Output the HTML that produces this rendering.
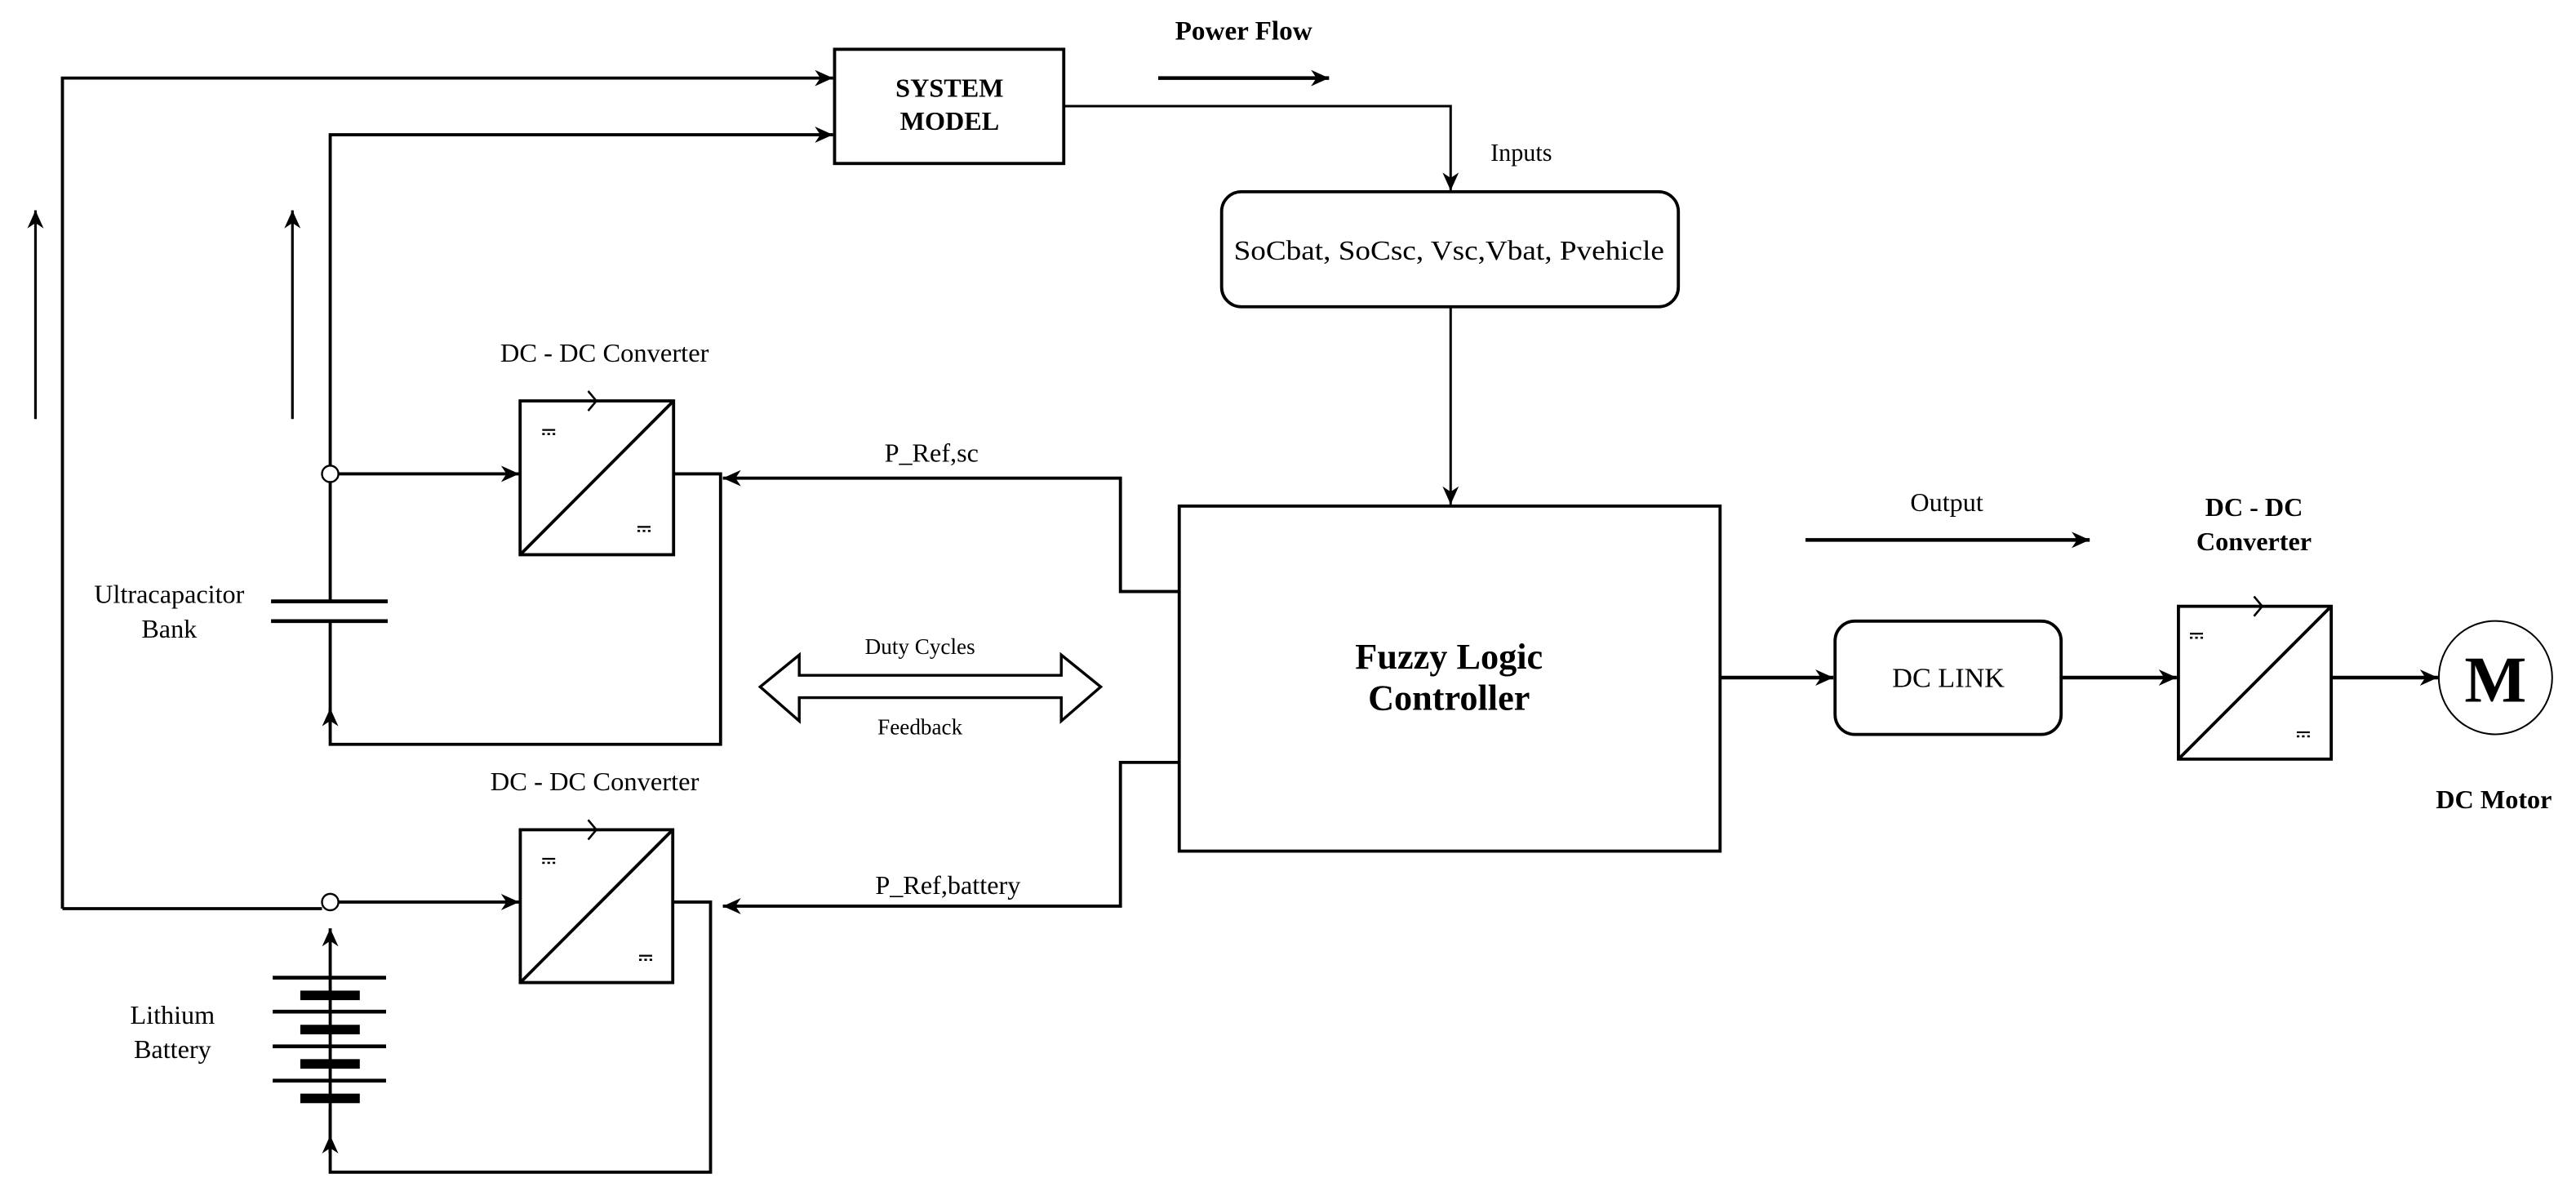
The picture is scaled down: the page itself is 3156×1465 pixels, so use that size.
<!DOCTYPE html>
<html><head><meta charset="utf-8"><style>html,body{margin:0;padding:0;background:#fff}svg{display:block}text{font-family:"Liberation Serif",serif;fill:#000}</style></head>
<body>
<svg width="3156" height="1465" viewBox="0 0 1568 727.9" preserveAspectRatio="none" xmlns="http://www.w3.org/2000/svg">
<defs>
<marker id="a" viewBox="0 0 10 10" refX="10" refY="5" markerWidth="11" markerHeight="11" markerUnits="userSpaceOnUse" orient="auto"><path d="M0,0.5 L10,5 L0,9.5 L3,5 z" fill="#000"/></marker>
<symbol id="dc" viewBox="0 0 10 6"><rect x="0" y="0" width="10" height="1.4" fill="#000"/><rect x="0" y="3" width="2" height="1.6" fill="#000"/><rect x="4" y="3" width="2" height="1.6" fill="#000"/><rect x="8" y="3" width="2" height="1.6" fill="#000"/></symbol>
</defs>
<g fill="none" stroke="#000" stroke-width="1.9">
<polyline points="38,553 38,47.5 507,47.5" marker-end="url(#a)"/>
<polyline points="201,283 201,82 507,82" marker-end="url(#a)"/>
<line x1="21.6" y1="255" x2="21.6" y2="128" marker-end="url(#a)" stroke-width="1.6"/>
<line x1="178" y1="255" x2="178" y2="128" marker-end="url(#a)" stroke-width="1.6"/>
<rect x="508" y="30" width="139.5" height="69.5"/>
<line x1="705" y1="47.5" x2="809" y2="47.5" marker-end="url(#a)" stroke-width="2.2"/>
<polyline points="647.5,64.6 883,64.6 883,116" marker-end="url(#a)" stroke-width="1.5"/>
<rect x="743.6" y="116.7" width="278" height="70" rx="12"/>
<line x1="883" y1="187" x2="883" y2="307" marker-end="url(#a)" stroke-width="1.5"/>
<line x1="206" y1="288.4" x2="316" y2="288.4" marker-end="url(#a)"/>
<rect x="316.6" y="244" width="93.4" height="93.6"/>
<line x1="316.6" y1="337.6" x2="410" y2="244"/>
<polyline points="410,288.4 438.6,288.4 438.6,453 201,453 201,432"/>
<line x1="201" y1="442" x2="201" y2="431" marker-end="url(#a)"/>
<polyline points="717.8,360 682,360 682,291 440,291" marker-end="url(#a)"/>
<line x1="201" y1="293.5" x2="201" y2="366"/>
<line x1="165" y1="366" x2="236" y2="366" stroke-width="2.3"/>
<line x1="165" y1="378" x2="236" y2="378" stroke-width="2.3"/>
<line x1="201" y1="378" x2="201" y2="442"/>
<polyline points="38,553 196,553"/>
<line x1="206" y1="549" x2="316" y2="549" marker-end="url(#a)"/>
<rect x="316.7" y="505" width="92.8" height="93"/>
<line x1="316.7" y1="598" x2="409.5" y2="505"/>
<polyline points="409.5,549 432.5,549 432.5,713.4 201,713.4 201,675"/>
<line x1="201" y1="702" x2="201" y2="691" marker-end="url(#a)"/>
<polyline points="717.8,464 682,464 682,551.5 440,551.5" marker-end="url(#a)"/>
<line x1="201" y1="595" x2="201" y2="565" marker-end="url(#a)"/>
<line x1="166" y1="595" x2="235" y2="595" stroke-width="2.3"/>
<line x1="166" y1="615.7" x2="235" y2="615.7" stroke-width="2.3"/>
<line x1="166" y1="636.8" x2="235" y2="636.8" stroke-width="2.3"/>
<line x1="166" y1="657.7" x2="235" y2="657.7" stroke-width="2.3"/>
<line x1="201" y1="595" x2="201" y2="702"/>
<rect x="717.8" y="308" width="329.2" height="210"/>
<line x1="1099" y1="328.6" x2="1272" y2="328.6" marker-end="url(#a)" stroke-width="2.2"/>
<line x1="1047" y1="412.4" x2="1116" y2="412.4" marker-end="url(#a)" stroke-width="2.2"/>
<rect x="1117" y="378" width="137.6" height="69" rx="12"/>
<line x1="1254.6" y1="412.4" x2="1325" y2="412.4" marker-end="url(#a)" stroke-width="2.2"/>
<rect x="1326" y="369" width="93" height="93"/>
<line x1="1326" y1="462" x2="1419" y2="369"/>
<line x1="1419" y1="412.4" x2="1484" y2="412.4" marker-end="url(#a)" stroke-width="2.2"/>
<circle cx="1519" cy="412.4" r="34.5" stroke-width="1"/>
<path d="M462.7,418 L486.5,398.6 L486.5,411 L646,411 L646,398.6 L670,418 L646,438.8 L646,424.6 L486.5,424.6 L486.5,438.8 Z" stroke-width="1.7"/>
<path d="M358,238 L363,244 L358,250" stroke-width="1.3"/>
<path d="M358,499 L363,505 L358,511" stroke-width="1.3"/>
<path d="M1372,363 L1377,369 L1372,375" stroke-width="1.3"/>
</g>
<g fill="#000">
<rect x="182.8" y="602.9" width="36.2" height="5.8"/>
<rect x="182.8" y="623.7" width="36.2" height="5.8"/>
<rect x="182.8" y="644.6" width="36.2" height="5.8"/>
<rect x="182.8" y="665.6" width="36.2" height="5.8"/>
<circle cx="201" cy="288.4" r="5" fill="#fff" stroke="#000" stroke-width="1.2"/>
<circle cx="201" cy="549" r="5" fill="#fff" stroke="#000" stroke-width="1.2"/>
</g>
<use href="#dc" x="330" y="261" width="8" height="5"/>
<use href="#dc" x="388" y="320" width="8" height="5"/>
<use href="#dc" x="330" y="522" width="8" height="5"/>
<use href="#dc" x="389" y="581" width="8" height="5"/>
<use href="#dc" x="1333" y="385" width="8" height="5"/>
<use href="#dc" x="1398" y="445" width="8" height="5"/>
<g text-anchor="middle" font-size="16">
<text x="578" y="59" font-weight="bold">SYSTEM</text>
<text x="578" y="79" font-weight="bold">MODEL</text>
<text x="757" y="24" font-weight="bold" font-size="16.5">Power Flow</text>
<text x="926" y="98" font-size="15">Inputs</text>
<text x="882" y="158" font-size="17" textLength="262" lengthAdjust="spacingAndGlyphs">SoCbat, SoCsc, Vsc,Vbat, Pvehicle</text>
<text x="368" y="220" textLength="127" lengthAdjust="spacingAndGlyphs">DC - DC Converter</text>
<text x="362" y="481" textLength="127" lengthAdjust="spacingAndGlyphs">DC - DC Converter</text>
<text x="567" y="281">P_Ref,sc</text>
<text x="577" y="544">P_Ref,battery</text>
<text x="103" y="367">Ultracapacitor</text>
<text x="103" y="388">Bank</text>
<text x="105" y="623">Lithium</text>
<text x="105" y="644">Battery</text>
<text x="560" y="398" font-size="13.5">Duty Cycles</text>
<text x="560" y="447" font-size="13.5">Feedback</text>
<text x="882" y="407" font-size="22" font-weight="bold">Fuzzy Logic</text>
<text x="882" y="432" font-size="22" font-weight="bold">Controller</text>
<text x="1185" y="311">Output</text>
<text x="1372" y="314" font-weight="bold">DC - DC</text>
<text x="1372" y="335" font-weight="bold">Converter</text>
<text x="1186" y="418" font-size="17">DC LINK</text>
<text x="1519" y="427" font-size="40" font-weight="bold">M</text>
<text x="1518" y="492" font-weight="bold">DC Motor</text>
</g>
</svg>
</body></html>
